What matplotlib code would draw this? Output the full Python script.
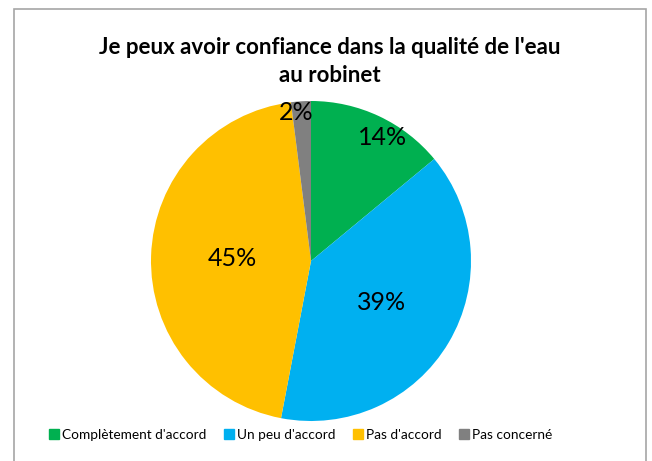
import numpy as np
import matplotlib
matplotlib.use("Agg")
import matplotlib.pyplot as plt
from matplotlib.patches import Rectangle
from matplotlib.lines import Line2D

categories = ["Complètement d'accord", "Un peu d'accord", "Pas d'accord", "Pas concerné"]
values = [14, 39, 45, 2]
labels = ["14%", "39%", "45%", "2%"]
colors = ["#00B050", "#00B0F0", "#FFC000", "#808080"]
label_radius = [0.89, 0.51, 0.49, 0.93]
label_angle_shift = [-5, 0, 0, 2]  # degrees (matplotlib angle convention)
title_lines = ["Je peux avoir confiance dans la qualité de l'eau", "au robinet"]

plt.rcParams['font.family'] = ['Lato', 'DejaVu Sans']

W, H = 652, 461
fig = plt.figure(figsize=(W / 100, H / 100), dpi=100)
fig.patch.set_facecolor("white")

# outer border
fig.add_artist(Rectangle((14 / W, -0.01), (646 - 14) / W, (H - 9) / H + 0.01,
                         transform=fig.transFigure, fill=False,
                         edgecolor="#A6A6A6", linewidth=1.2))

cx, cy, r = 311, 261, 160
ax = fig.add_axes([(cx - r) / W, (H - cy - r) / H, 2 * r / W, 2 * r / H])
wedges, _ = ax.pie(values, colors=colors, startangle=90, counterclock=False,
                   radius=1.0, wedgeprops=dict(linewidth=0))
ax.set_xlim(-1, 1)
ax.set_ylim(-1, 1)
ax.set_aspect("equal")
ax.axis("off")

for w, lab, lr, sh in zip(wedges, labels, label_radius, label_angle_shift):
    ang = np.deg2rad((w.theta1 + w.theta2) / 2 + sh)
    ax.text(lr * np.cos(ang), lr * np.sin(ang), lab, ha="center", va="center",
            fontsize=18, color="black")

fig.text(330 / W, (H - 47) / H, title_lines[0],
         ha="center", va="center", fontsize=16, fontweight="bold")
fig.text(330 / W, (H - 75) / H, title_lines[1],
         ha="center", va="center", fontsize=16, fontweight="bold")

handles = [Line2D([0], [0], marker="s", linestyle="none", markersize=7.5,
                  markerfacecolor=c, markeredgecolor=c) for c in colors]
fig.legend(handles, categories, loc="center", bbox_to_anchor=(300 / W, 26 / H),
           ncol=4, frameon=False, fontsize=9.8, handletextpad=0.15,
           columnspacing=1.2, handlelength=0.9)

fig.savefig("out.png", dpi=100)
